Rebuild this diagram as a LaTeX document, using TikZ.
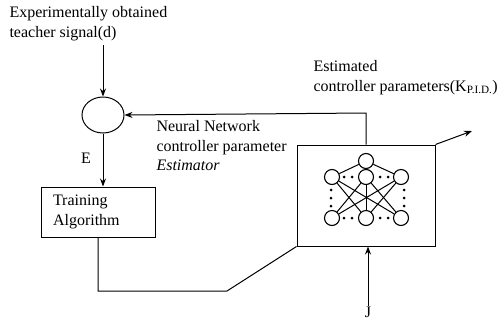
\documentclass[tikz,border=0pt]{standalone}
\usepackage{fontspec}
\setmainfont{Liberation Serif}
\usetikzlibrary{shapes.geometric,arrows.meta}
\begin{document}
\begin{tikzpicture}[x=1pt,y=-1pt,
  line width=1pt,
  every node/.style={font=\fontsize{16}{19.5}\selectfont},
  arr/.style={-{Stealth[length=8pt,width=6pt]}},
  nn/.style={draw,circle,minimum size=15pt,inner sep=0pt,line width=1.1pt},
  dot/.style={fill,circle,minimum size=3pt,inner sep=0pt}]
\useasboundingbox (0,0) rectangle (502,322);
\node[anchor=north west,align=left,inner sep=0pt] (teacher) at (9,6) {Experimentally obtained\\teacher signal(d)};
\coordinate (tin) at (103,45);
\node[draw,ellipse,minimum width=42pt,minimum height=36pt,inner sep=0pt] (sum) at (103,115) {};
\node[draw,minimum width=114pt,minimum height=50pt,text width=90pt,align=left,inner sep=0pt] (train) at (98,212) {Training\\Algorithm};
\node[draw,minimum width=138pt,minimum height=101pt] (box) at (366,195.5) {};
\node[anchor=center,inner sep=0pt] (E) at (86,158) {E};
\node[anchor=north west,align=left,inner sep=0pt] (nnlab) at (156,120) {Neural Network\\controller parameter\\\textit{Estimator}};
\node[anchor=north west,align=left,inner sep=0pt] (est) at (313,60) {Estimated\\controller parameters(K\textsubscript{P.I.D.})};
\node[inner sep=0pt] (J) at (368,312) {J};
\coordinate (out) at (472,131);
\coordinate (fb) at (366,113);
\coordinate (low) at (227,291);

\draw[arr] (tin) -- (sum.north);
\draw[arr] (sum.south) -- (train.north -| sum.south);
\draw[arr] (box.north) -- (fb) -- (sum.east);
\draw[arr] (box.north east) -- (out);
\draw (train.south) |- (low) -- (box.south west);
\draw[arr] (J.north) -- (J.north |- box.south);

% network
\node[nn] (t) at (366,161) {};
\node[nn] (ml) at (332,177) {};
\node[nn] (mc) at (366,177) {};
\node[nn] (mr) at (401,177) {};
\node[nn] (bl) at (332,218) {};
\node[nn] (bc) at (366,218) {};
\node[nn] (br) at (401,218) {};
\draw (t) -- (ml); \draw (t) -- (mr); \draw (t) -- (mc);
\draw (ml) -- (bc); \draw (ml) -- (br);
\draw (mc) -- (bl); \draw (mc) -- (bc); \draw (mc) -- (br);
\draw (mr) -- (bl); \draw (mr) -- (bc);
\foreach \x [count=\i] in {344,352,380,388}{
  \node[dot] (dm\i) at (\x,177) {};
  \node[dot] (db\i) at (\x,218) {};
}
\foreach \y [count=\i] in {190,198,206}{
  \node[dot] (dl\i) at (331,\y) {};
  \node[dot] (dr\i) at (404,\y) {};
}
\end{tikzpicture}
\end{document}
